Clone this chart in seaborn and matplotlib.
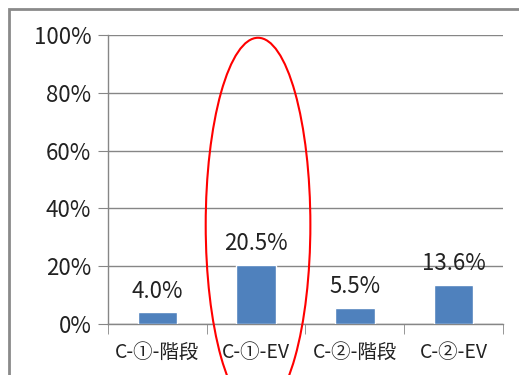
import seaborn as sns
import matplotlib.pyplot as plt
from matplotlib.patches import Ellipse, Rectangle
from matplotlib.ticker import FixedLocator, PercentFormatter
import pandas as pd

categories = ['C-①-階段', 'C-①-EV', 'C-②-階段', 'C-②-EV']
values = [0.040, 0.205, 0.055, 0.136]
value_labels = ['4.0%', '20.5%', '5.5%', '13.6%']
y_ticks = [0, 0.2, 0.4, 0.6, 0.8, 1.0]

sns.set_style('white')
plt.rcParams['font.family'] = ['Noto Sans CJK JP', 'DejaVu Sans']

df = pd.DataFrame({'cat': categories, 'val': values})

fig = plt.figure(figsize=(5.19, 3.75), dpi=100)
ax = fig.add_axes([0.208, 0.136, 0.761, 0.771])

# outer chart frame (only left/top visible in the crop)
fig.patches.append(Rectangle((9 / 519, -0.1), 1.2, (375 - 9) / 375 + 0.1,
                             transform=fig.transFigure, fill=False,
                             edgecolor='#8a8a8a', linewidth=2))

sns.barplot(data=df, x='cat', y='val', color='#4F81BD', saturation=1,
            width=0.4, ax=ax, zorder=3)

ax.set_xlim(-0.5, 3.5)
ax.set_ylim(0, 1.0)
ax.yaxis.set_major_locator(FixedLocator(y_ticks))
ax.yaxis.set_major_formatter(PercentFormatter(1.0, decimals=0))
ax.grid(axis='y', color='#868686', linewidth=1, zorder=0)
ax.set_axisbelow(True)
for s in ['top', 'right']:
    ax.spines[s].set_visible(False)
for s in ['left', 'bottom']:
    ax.spines[s].set_color('#868686')
    ax.spines[s].set_linewidth(1)

ax.tick_params(axis='y', length=7, color='#868686', labelsize=16, pad=5,
               labelcolor='#222222', left=True)
ax.tick_params(axis='x', length=0, labelsize=14, pad=13, labelcolor='#222222')
ax.xaxis.set_minor_locator(FixedLocator([-0.5, 0.5, 1.5, 2.5, 3.5]))
ax.tick_params(axis='x', which='minor', length=7, color='#868686', bottom=True)
ax.set_xlabel('')
ax.set_ylabel('')

for i, (v, lab) in enumerate(zip(values, value_labels)):
    ax.annotate(lab, (i, v), xytext=(0, 7), textcoords='offset points',
                ha='center', va='bottom', fontsize=16, color='#222222')

ax.add_patch(Ellipse((1.02, 0.343), 1.06, 1.294, fill=False,
                     edgecolor='red', linewidth=1.5, clip_on=False, zorder=5))

fig.savefig('out.png', dpi=100)
